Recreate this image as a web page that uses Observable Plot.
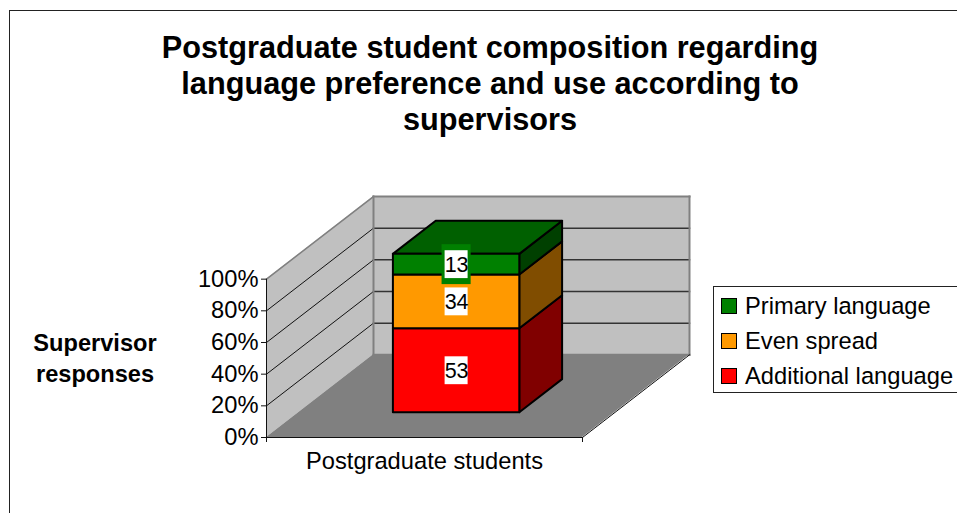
<!DOCTYPE html>
<html>
<head>
<meta charset="utf-8">
<script src="https://cdn.jsdelivr.net/npm/d3@7"></script>
<script src="https://cdn.jsdelivr.net/npm/@observablehq/plot@0.6"></script>
<style>
  html, body { margin: 0; padding: 0; background: #fff; }
  #page { position: relative; width: 957px; height: 513px; overflow: hidden; font-family: "Liberation Sans", Arial, sans-serif; color: #000; }
  #frame { position: absolute; left: 9px; top: 10px; width: 960px; height: 520px; border: 1px solid #222; box-sizing: border-box; }
  #chart { position: absolute; left: 0; top: 0; }
  #title { position: absolute; left: 40px; top: 30px; width: 900px; text-align: center; font-weight: bold; font-size: 30.7px; line-height: 36px; }
  #ylabel { position: absolute; left: 15px; top: 328px; width: 160px; text-align: center; font-weight: bold; font-size: 23.6px; line-height: 31px; }
  #legend { position: absolute; left: 713px; top: 286px; width: 250px; height: 107px; box-sizing: border-box; border: 1px solid #222; background: #fff; font-size: 23.7px; }
  .row { position: absolute; left: 7px; height: 18px; line-height: 18px; white-space: nowrap; }
  .sw { display: inline-block; width: 16px; height: 16px; box-sizing: border-box; border: 1.5px solid #000; margin-right: 8px; vertical-align: top; margin-top: 1px; }
</style>
</head>
<body>
<div id="page">
  <div id="frame"></div>
  <div id="chart"></div>
  <div id="title">Postgraduate student composition regarding<br>language preference and use according to<br>supervisors</div>
  <div id="ylabel">Supervisor<br>responses</div>
  <div id="legend"></div>
</div>
<script>
// ---- data ----
const category = "Postgraduate students";
const seriesNames = ["Additional language", "Even spread", "Primary language"];
const seriesValues = [53, 34, 13];
const percentTicks = [0, 20, 40, 60, 80, 100];

// ---- colours ----
const frontColors = ["#ff0000", "#ff9900", "#008000"];
const sideColors = ["#800000", "#804d00", "#004000"];
const topColor = "#006000";
const wallColor = "#c0c0c0";
const floorColor = "#808080";
const edgeColor = "#808080";

// ---- oblique projection of (c: 0..1 across, v: percent, d: 0..1 deep) into plot units ----
const kx = 107 / 316;
const ky = 83 / 159 * 100;
const P = (c, v, d) => ({x: c + kx * d, y: v + ky * d});
const quad = (a, b, c, e) => [
  {x1: a.x, y1: a.y, x2: b.x, y2: b.y},
  {x1: e.x, y1: e.y, x2: c.x, y2: c.y}
];
const face = (pts, fill, stroke, strokeWidth) =>
  Plot.area(quad(...pts), {x1: "x1", y1: "y1", x2: "x2", y2: "y2", fill, stroke: stroke || "none", strokeWidth: strokeWidth || 0});

const bc0 = 0.3, bc1 = 0.7, bd0 = 0.3, bd1 = 0.7;   // bar footprint: gap width 150%

// stacked boundaries
const stacks = [];
let acc = 0;
seriesValues.forEach((v, i) => { stacks.push({name: seriesNames[i], value: v, v0: acc, v1: acc + v, i}); acc += v; });

const marks = [];

// walls and floor
marks.push(face([P(0,0,0), P(0,100,0), P(0,100,1), P(0,0,1)], wallColor));
marks.push(face([P(0,0,1), P(0,100,1), P(1,100,1), P(1,0,1)], wallColor));
marks.push(face([P(0,0,0), P(1,0,0), P(1,0,1), P(0,0,1)], floorColor));

// gridlines
const gridTicks = percentTicks.filter(t => t > 0 && t < 100);
const seg = (a, b) => ({x1: a.x, y1: a.y, x2: b.x, y2: b.y});
const link = (rows, stroke, strokeWidth) => Plot.link(rows, {x1: "x1", y1: "y1", x2: "x2", y2: "y2", stroke, strokeWidth, strokeLinecap: "square"});
marks.push(link(gridTicks.map(t => seg(P(0,t,0), P(0,t,1))), "#111", 1));
marks.push(link(gridTicks.map(t => seg(P(0,t,1), P(1,t,1))), "#333", 1.5));
// wall edges
marks.push(link([seg(P(0,100,0), P(0,100,1))], edgeColor, 1.5));
marks.push(link([
  seg(P(0,100,1), P(1,100,1)), seg(P(1,100,1), P(1,0,1)), seg(P(0,100,1), P(0,0,1)), seg(P(0,0,1), P(1,0,1))
], edgeColor, 2));
// front of floor
marks.push(link([seg(P(0,0,0), P(1,0,0)), seg(P(1,0,0), P(1,0,1))], "#111", 1));

// bar: side faces, top, then fronts
const barStroke = "#000", barW = 2;
stacks.forEach(s => {
  marks.push(face([P(bc1,s.v0,bd0), P(bc1,s.v1,bd0), P(bc1,s.v1,bd1), P(bc1,s.v0,bd1)], sideColors[s.i], barStroke, barW));
});
marks.push(face([P(bc0,100,bd0), P(bc1,100,bd0), P(bc1,100,bd1), P(bc0,100,bd1)], topColor, barStroke, barW));
stacks.forEach(s => {
  marks.push(face([P(bc0,s.v0,bd0), P(bc1,s.v0,bd0), P(bc1,s.v1,bd0), P(bc0,s.v1,bd0)], frontColors[s.i], barStroke, barW));
});

// data labels on front faces
const labelRows = stacks.map(s => {
  const p = P((bc0 + bc1) / 2, (s.v0 + s.v1) / 2, bd0);
  return {x: p.x, y: p.y, value: s.value, i: s.i};
});
const pad = (rows, hw, hh) => rows.map(r => ({x1: r.x - hw, x2: r.x + hw, y1: r.y - hh, y2: r.y + hh}));
marks.push(Plot.rect(pad(labelRows.filter(r => r.i === 2), 0.046, 12.6), {x1: "x1", x2: "x2", y1: "y1", y2: "y2", fill: frontColors[2]}));
marks.push(Plot.rect(pad(labelRows, 0.0364, 8.8), {x1: "x1", x2: "x2", y1: "y1", y2: "y2", fill: "#fff"}));
marks.push(Plot.text(labelRows, {x: "x", y: "y", text: d => String(d.value), fontSize: 21.5, fill: "#000"}));

// axes
marks.push(Plot.ruleX([0], {y1: 0, y2: 100, stroke: "#111", strokeWidth: 1}));
marks.push(Plot.axisY({ticks: percentTicks, tickFormat: d => d + "%", tickSize: 5, tickPadding: 3, fontSize: 23.7, label: null, stroke: "#111", color: "#000"}));
marks.push(Plot.axisX({ticks: [0, 1], tickSize: 5, tickFormat: () => "", label: null, stroke: "#111"}));
marks.push(Plot.text([category], {x: 0.5, y: 0, text: d => d, dy: 24, fontSize: 23.7, fill: "#000"}));

const chart = Plot.plot({
  width: 957,
  height: 513,
  marginLeft: 266,
  marginRight: 268,
  marginTop: 196,
  marginBottom: 76,
  style: {background: "transparent", fontFamily: '"Liberation Sans", Arial, sans-serif'},
  x: {domain: [0, 1 + kx], axis: null},
  y: {domain: [0, 100 + ky], axis: null},
  marks
});
document.getElementById("chart").appendChild(chart);

// legend, top-down reversed order
const legend = d3.select("#legend");
const order = [2, 1, 0];
order.forEach((i, k) => {
  const row = legend.append("div").attr("class", "row").style("top", (10 + k * 35) + "px");
  row.append("span").attr("class", "sw").style("background", frontColors[i]);
  row.append("span").text(seriesNames[i]);
});
</script>
</body>
</html>
